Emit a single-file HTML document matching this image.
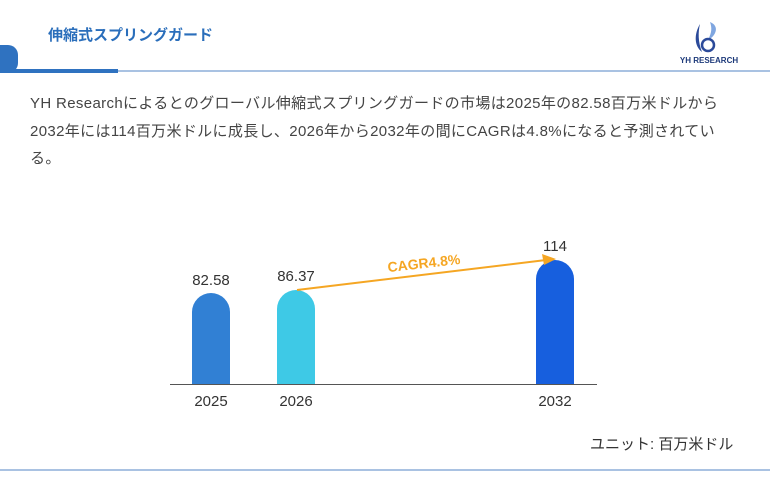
<!DOCTYPE html>
<html><head><meta charset="utf-8"><style>
body{margin:0;width:770px;height:482px;background:#fff;position:relative;overflow:hidden;font-family:"Liberation Sans","Noto Sans CJK JP",sans-serif}
.a{position:absolute}
</style></head><body>
<div class="a" style="left:-10px;top:45px;width:28px;height:28px;background:#2f72c0;border-radius:0 10px 10px 0"></div>
<div class="a" style="left:0;top:69px;width:118px;height:4px;background:#2f72c0"></div>
<div class="a" style="left:118px;top:70px;width:652px;height:2px;background:#a9c2e2"></div>
<div class="a" style="left:48px;top:24px;font-size:15px;font-weight:bold;color:#2a6ebb">伸縮式スプリングガード</div>
<svg class="a" style="left:680px;top:20px" width="60" height="46">
<path d="M20 4 C14 14 14 26 22 32 C18 22 18 12 20 4Z" fill="#2b4a9a"/>
<path d="M30 2 C40 6 36 16 28 20 C32 12 32 8 30 2Z" fill="#7fa6e0"/>
<circle cx="28" cy="25" r="6" fill="none" stroke="#2b4a9a" stroke-width="2.5"/>
<text x="29" y="43" font-size="8" font-weight="bold" fill="#1d3a7a" text-anchor="middle" font-family="Liberation Sans">YH RESEARCH</text>
</svg>
<div class="a" style="left:30px;top:90px;width:740px;font-size:15px;letter-spacing:0.35px;line-height:27.5px;color:#444;white-space:nowrap">YH Researchによるとのグローバル伸縮式スプリングガードの市場は2025年の82.58百万米ドルから<br>2032年には114百万米ドルに成長し、2026年から2032年の間にCAGRは4.8%になると予測されてい<br>る。</div>
<svg class="a" style="left:0;top:0" width="770" height="482">
<path d="M192 384 V312 A19 19 0 0 1 230 312 V384Z" fill="#3180d4"/>
<path d="M277 384 V309 A19 19 0 0 1 315 309 V384Z" fill="#3ec9e6"/>
<path d="M536 384 V279 A19 19 0 0 1 574 279 V384Z" fill="#175fde"/>
<line x1="170" y1="384.5" x2="597" y2="384.5" stroke="#555" stroke-width="1"/>
<g font-size="15" fill="#333" text-anchor="middle" font-family="Liberation Sans">
<text x="211" y="285">82.58</text><text x="296" y="281">86.37</text><text x="555" y="251">114</text>
<text x="211" y="406">2025</text><text x="296" y="406">2026</text><text x="555" y="406">2032</text>
</g>
<line x1="297" y1="290" x2="546" y2="260" stroke="#f5a623" stroke-width="2"/>
<path d="M556 259 L542 254 L544 265Z" fill="#f5a623"/>
<text x="424" y="268" font-size="14" font-weight="bold" fill="#f5a623" text-anchor="middle" transform="rotate(-6.5 424 264)" font-family="Liberation Sans">CAGR4.8%</text>
</svg>
<div class="a" style="left:590px;top:433px;font-size:15px;color:#333">ユニット: 百万米ドル</div>
<div class="a" style="left:0;top:469px;width:770px;height:2px;background:#a9c2e2"></div>
</body></html>
